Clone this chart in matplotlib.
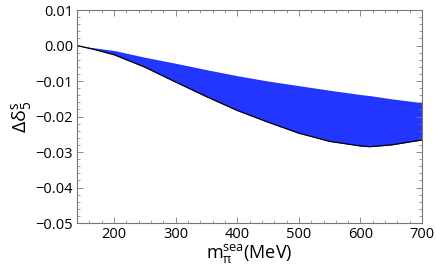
import matplotlib
matplotlib.use("Agg")
import matplotlib.pyplot as plt
from matplotlib.ticker import MultipleLocator

# pion sea mass (MeV) and band edges
m_pi = [140, 170, 200, 250, 300, 350, 400, 450, 500, 550, 600, 615, 650, 700]
lower = [0.0, -0.0012, -0.0026, -0.0061, -0.0103, -0.0144, -0.0183, -0.0216,
         -0.0247, -0.0270, -0.0283, -0.0285, -0.0280, -0.0266]
upper = [0.0, -0.0007, -0.0014, -0.0033, -0.0050, -0.0068, -0.0085, -0.0100,
         -0.0113, -0.0126, -0.0138, -0.0141, -0.0150, -0.0161]

x_ticks = [200, 300, 400, 500, 600, 700]
y_ticks = [0.01, 0.00, -0.01, -0.02, -0.03, -0.04, -0.05]

plt.rcParams["font.family"] = ["Open Sans", "DejaVu Sans"]
plt.rcParams["mathtext.fontset"] = "custom"
plt.rcParams["mathtext.rm"] = "Open Sans"
plt.rcParams["mathtext.it"] = "Open Sans:italic"

fig = plt.figure(figsize=(4.36, 2.79), dpi=100)
ax = fig.add_axes([0.177, 0.2007, 0.791, 0.7633])

ax.fill_between(m_pi, lower, upper, color="#2236ff", lw=0)
ax.plot(m_pi, lower, color="black", lw=0.9)

ax.set_xlim(140, 700)
ax.set_ylim(-0.05, 0.01)
ax.set_xticks(x_ticks)
ax.set_yticks(y_ticks)
ax.set_yticklabels([f"{v:.2f}".replace("-", "\u2212") for v in y_ticks])
ax.xaxis.set_minor_locator(MultipleLocator(20))
ax.yaxis.set_minor_locator(MultipleLocator(0.002))
ax.tick_params(which="both", direction="in", top=True, right=True,
               color="#777777", labelsize=10.5, pad=3)
ax.tick_params(which="major", length=4, width=0.6)
ax.tick_params(which="minor", length=2, width=0.5)
for s in ax.spines.values():
    s.set_color("#777777")
    s.set_linewidth(0.8)

ax.set_xlabel(r"$\mathrm{m_{\pi}^{sea}}$(MeV)", fontsize=13, labelpad=0)
ax.set_ylabel(r"$\mathrm{\Delta\delta_5^s}$", fontsize=14, labelpad=1)

fig.savefig("out.png", dpi=100)
